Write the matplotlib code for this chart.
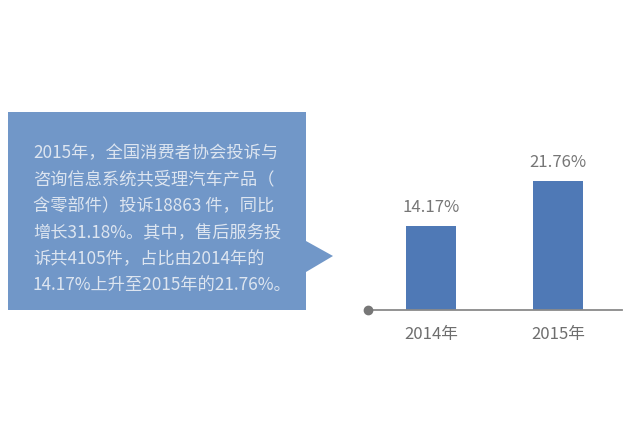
import matplotlib
matplotlib.use("Agg")
import matplotlib.pyplot as plt
from matplotlib.patches import Polygon

plt.rcParams['font.family'] = ['Noto Sans CJK SC', 'DejaVu Sans']

categories = ["2014年", "2015年"]
values = [14.17, 21.76]
value_labels = ["14.17%", "21.76%"]
box_lines = [
    "2015年，全国消费者协会投诉与",
    "咨询信息系统共受理汽车产品（",
    "含零部件）投诉18863 件，同比",
    "增长31.18%。其中，售后服务投",
    "诉共4105件，占比由2014年的",
    "14.17%上升至2015年的21.76%。",
]

W, H = 640, 427
fig = plt.figure(figsize=(W / 100, H / 100), dpi=100)
fig.patch.set_facecolor("white")

def fx(x):
    return x / W

def fy(y):
    return (H - y) / H

# callout box
box_color = "#7197c8"
pts = [(8, 113), (306, 113), (306, 242), (333, 257), (306, 273), (306, 311), (8, 311)]
poly = Polygon([(fx(x), fy(y)) for x, y in pts], closed=True, transform=fig.transFigure,
               facecolor=box_color, edgecolor="none")
fig.patches.append(poly)

for i, line in enumerate(box_lines):
    fig.text(fx(33), fy(153 + i * 26.6), line, color="#dde5f0", fontsize=12.4,
             fontweight="light", va="center", ha="left")

# bar chart axes
ax_left, ax_right = 368, 622
base_y = 311
px_per_unit = 5.95
ymax = 30
ax = fig.add_axes([fx(ax_left), fy(base_y), (ax_right - ax_left) / W, ymax * px_per_unit / H])
ax.set_xlim(-0.496, 1.504)
ax.set_ylim(0, ymax)
x = list(range(len(categories)))
ax.bar(x, values, width=0.394, color="#4f79b6", zorder=2)
for xi, v, lab in zip(x, values, value_labels):
    ax.text(xi, v + 3.2, lab, ha="center", va="center", fontsize=12, color="#767676",
            fontweight="light")
ax.set_xticks(x)
ax.set_xticklabels(categories, fontsize=12, color="#6e6e6e", fontweight="light")
ax.tick_params(axis="x", length=0, pad=11)
ax.set_yticks([])
for s in ["top", "right", "left"]:
    ax.spines[s].set_visible(False)
ax.spines["bottom"].set_color("#8a8a8a")
ax.spines["bottom"].set_linewidth(1.3)
ax.patch.set_alpha(0)
ax.plot([-0.496], [0], marker="o", markersize=6, color="#777777", clip_on=False, zorder=3)

fig.savefig("out.png", dpi=100, facecolor="white")
